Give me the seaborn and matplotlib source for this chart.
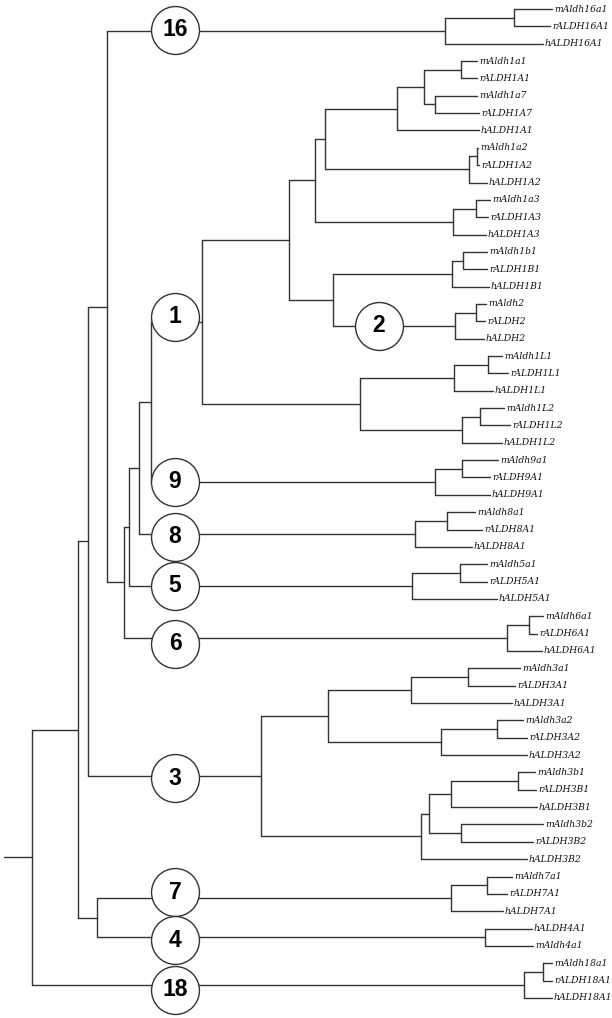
"""
ALDH gene family tree (mouse / rat / human), drawn as a rectangular cladogram.
"""
import matplotlib
matplotlib.use("Agg")
import matplotlib.pyplot as plt
import pandas as pd
import seaborn as sns

# ── Tree topology (children listed top -> bottom) ─────────────────────────────
children = {
    "root":  ["A", "c18"],
    "A":     ["B", "C"],
    "B":     ["D", "c3"],
    "D":     ["c16", "E"],
    "c16":   ["c16i", "hALDH16A1"],
    "c16i":  ["mAldh16a1", "rALDH16A1"],
    "E":     ["F", "c6"],
    "F":     ["G", "c5"],
    "G":     ["I", "c8"],
    "I":     ["c1", "c9"],
    "c1":    ["J", "c1L"],
    "J":     ["K", "L"],
    "K":     ["M", "c1a3"],
    "M":     ["N", "c1a2"],
    "N":     ["O", "hALDH1A1"],
    "O":     ["P", "Q"],
    "P":     ["mAldh1a1", "rALDH1A1"],
    "Q":     ["mAldh1a7", "rALDH1A7"],
    "c1a2":  ["c1a2i", "hALDH1A2"],
    "c1a2i": ["mAldh1a2", "rALDH1A2"],
    "c1a3":  ["c1a3i", "hALDH1A3"],
    "c1a3i": ["mAldh1a3", "rALDH1A3"],
    "L":     ["c1b1", "c2"],
    "c1b1":  ["c1b1i", "hALDH1B1"],
    "c1b1i": ["mAldh1b1", "rALDH1B1"],
    "c2":    ["c2i", "hALDH2"],
    "c2i":   ["mAldh2", "rALDH2"],
    "c1L":   ["c1L1", "c1L2"],
    "c1L1":  ["c1L1i", "hALDH1L1"],
    "c1L1i": ["mAldh1L1", "rALDH1L1"],
    "c1L2":  ["c1L2i", "hALDH1L2"],
    "c1L2i": ["mAldh1L2", "rALDH1L2"],
    "c9":    ["c9i", "hALDH9A1"],
    "c9i":   ["mAldh9a1", "rALDH9A1"],
    "c8":    ["c8i", "hALDH8A1"],
    "c8i":   ["mAldh8a1", "rALDH8A1"],
    "c5":    ["c5i", "hALDH5A1"],
    "c5i":   ["mAldh5a1", "rALDH5A1"],
    "c6":    ["c6i", "hALDH6A1"],
    "c6i":   ["mAldh6a1", "rALDH6A1"],
    "c3":    ["c3A", "c3B"],
    "c3A":   ["c3A1", "c3A2"],
    "c3A1":  ["c3A1i", "hALDH3A1"],
    "c3A1i": ["mAldh3a1", "rALDH3A1"],
    "c3A2":  ["c3A2i", "hALDH3A2"],
    "c3A2i": ["mAldh3a2", "rALDH3A2"],
    "c3B":   ["R", "hALDH3B2"],
    "R":     ["c3B1", "c3B2i"],
    "c3B1":  ["c3B1i", "hALDH3B1"],
    "c3B1i": ["mAldh3b1", "rALDH3B1"],
    "c3B2i": ["mAldh3b2", "rALDH3B2"],
    "C":     ["c7", "c4"],
    "c7":    ["c7i", "hALDH7A1"],
    "c7i":   ["mAldh7a1", "rALDH7A1"],
    "c4":    ["hALDH4A1", "mAldh4a1"],
    "c18":   ["c18i", "hALDH18A1"],
    "c18i":  ["mAldh18a1", "rALDH18A1"],
}

# distance from the root of every internal node
node_x = {
    "root": 0, "A": 46, "B": 56, "D": 75, "c16": 413, "c16i": 482,
    "E": 92, "F": 97, "G": 107, "I": 119, "c1": 170, "J": 257, "K": 283,
    "M": 293, "N": 365, "O": 392, "P": 429, "Q": 403,
    "c1a2": 437, "c1a2i": 445, "c1a3": 421, "c1a3i": 444,
    "L": 301, "c1b1": 420, "c1b1i": 431, "c2": 423, "c2i": 444,
    "c1L": 328, "c1L1": 422, "c1L1i": 456, "c1L2": 430, "c1L2i": 448,
    "c9": 403, "c9i": 430, "c8": 383, "c8i": 415, "c5": 380, "c5i": 428,
    "c6": 475, "c6i": 497, "c3": 229, "c3A": 296, "c3A1": 379, "c3A1i": 436,
    "c3A2": 409, "c3A2i": 465, "c3B": 389, "R": 397, "c3B1": 419,
    "c3B1i": 486, "c3B2i": 429, "C": 65, "c7": 419, "c7i": 455, "c4": 453,
    "c18": 492, "c18i": 511,
}

# distance from the root of every leaf tip
tip_x = {
    "mAldh16a1": 520, "rALDH16A1": 518, "hALDH16A1": 511,
    "mAldh1a1": 445, "rALDH1A1": 445, "mAldh1a7": 445, "rALDH1A7": 447, "hALDH1A1": 447,
    "mAldh1a2": 446, "rALDH1A2": 447, "hALDH1A2": 455,
    "mAldh1a3": 458, "rALDH1A3": 456, "hALDH1A3": 454,
    "mAldh1b1": 455, "rALDH1B1": 455, "hALDH1B1": 457,
    "mAldh2": 454, "rALDH2": 453, "hALDH2": 452,
    "mAldh1L1": 470, "rALDH1L1": 476, "hALDH1L1": 461,
    "mAldh1L2": 472, "rALDH1L2": 478, "hALDH1L2": 470,
    "mAldh9a1": 466, "rALDH9A1": 458, "hALDH9A1": 458,
    "mAldh8a1": 443, "rALDH8A1": 450, "hALDH8A1": 440,
    "mAldh5a1": 455, "rALDH5A1": 455, "hALDH5A1": 465,
    "mAldh6a1": 511, "rALDH6A1": 505, "hALDH6A1": 510,
    "mAldh3a1": 488, "rALDH3A1": 483, "hALDH3A1": 480,
    "mAldh3a2": 491, "rALDH3A2": 495, "hALDH3A2": 495,
    "mAldh3b1": 503, "rALDH3B1": 504, "hALDH3B1": 505,
    "mAldh3b2": 511, "rALDH3B2": 501, "hALDH3B2": 495,
    "mAldh7a1": 480, "rALDH7A1": 475, "hALDH7A1": 471,
    "hALDH4A1": 500, "mAldh4a1": 501,
    "mAldh18a1": 520, "rALDH18A1": 520, "hALDH18A1": 520,
}

# family badges: number, branch they sit on
badge_labels = ["16", "1", "2", "9", "8", "5", "6", "3", "7", "4", "18"]
badge_nodes  = ["c16", "c1", "c2", "c9", "c8", "c5", "c6", "c3", "c7", "c4", "c18"]

# ── Layout params ─────────────────────────────────────────────────────────────
ROOT_STUB  = 28      # length of the stub left of the root
ROW_PX     = 17.35   # pixels per leaf row
BADGE_X    = 143
BADGE2_X   = 347
BADGE_DY   = {"16": -1, "1": -5, "8": 3, "6": 6, "3": 2, "7": -6, "4": 3, "18": 5}
LINE_COL   = "#333333"

# ── Compute coordinates ───────────────────────────────────────────────────────
pos_x, pos_y, parent = {}, {}, {}
leaf_order = []

def layout(node):
    if node not in children:
        pos_x[node] = tip_x[node]
        pos_y[node] = len(leaf_order)
        leaf_order.append(node)
        return pos_y[node]
    ys = []
    for ch in children[node]:
        parent[ch] = node
        ys.append(layout(ch))
    pos_x[node] = node_x[node]
    pos_y[node] = (ys[0] + ys[-1]) / 2
    return pos_y[node]

layout("root")

rows = []
seg = 0
for node, par in parent.items():
    rows += [(seg, pos_x[par], pos_y[node]), (seg, pos_x[node], pos_y[node])]
    seg += 1
for node, chs in children.items():
    rows += [(seg, pos_x[node], pos_y[chs[0]]), (seg, pos_x[node], pos_y[chs[-1]])]
    seg += 1
rows += [(seg, -ROOT_STUB, pos_y["root"]), (seg, 0, pos_y["root"])]
segs = pd.DataFrame(rows, columns=["seg", "x", "y"])

# ── Plot ──────────────────────────────────────────────────────────────────────
sns.set_theme(style="white")
fig = plt.figure(figsize=(6.12, 10.18), dpi=100)
ax = fig.add_axes([0, 0, 1, 1])

sns.lineplot(data=segs, x="x", y="y", units="seg", estimator=None, sort=False,
             color=LINE_COL, lw=1.0, ax=ax)

for name in leaf_order:
    ax.text(pos_x[name] + 2, pos_y[name], name, ha="left", va="center",
            family="DejaVu Serif", style="italic", fontsize=6.7, color="#111111")

bx = [BADGE2_X if lab == "2" else BADGE_X for lab in badge_labels]
by = [pos_y[n] + BADGE_DY.get(lab, 0) / ROW_PX for lab, n in zip(badge_labels, badge_nodes)]
sns.scatterplot(x=bx, y=by, s=1190, color="white", edgecolor=LINE_COL,
                linewidth=1.0, zorder=3, ax=ax)
for lab, x, y in zip(badge_labels, bx, by):
    ax.text(x, y, lab, ha="center", va="center", fontsize=16.5, fontweight="bold",
            family="Liberation Sans", color="black", zorder=4)

ax.set_xlim(-32, 580)
ax.set_ylim(57 + 20 / ROW_PX, -9 / ROW_PX)
ax.axis("off")

plt.savefig("out.png", dpi=100)
